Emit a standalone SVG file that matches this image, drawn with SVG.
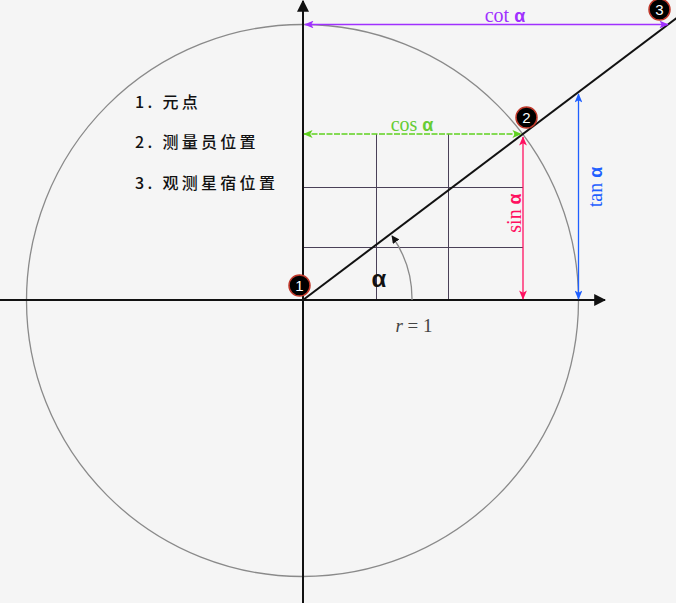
<svg xmlns="http://www.w3.org/2000/svg" width="676" height="603" viewBox="0 0 676 603">
<style>
.grid{stroke:#4a4058;stroke-width:1;fill:none}
.axis{stroke:#111;stroke-width:2;fill:none}
.lbl{font-family:"Liberation Serif",serif;font-size:20px}
.gr{font-weight:bold;font-family:"Liberation Sans",sans-serif;font-size:18px}
.cn{font-family:"Noto Sans CJK SC",sans-serif;font-size:16px;font-weight:500;letter-spacing:3.3px;fill:#111}
.num{font-family:"Liberation Sans",sans-serif;font-size:15px;fill:#fff;text-anchor:middle}
.badge{fill:#000;stroke:#c0392b;stroke-width:1.5}
</style>
<defs>
<marker id="ab" viewBox="0 0 10 10" refX="9" refY="5" markerWidth="6" markerHeight="6" orient="auto-start-reverse"><path d="M0,0 L10,5 L0,10 z" fill="#111"/></marker>
<marker id="ag" viewBox="0 0 12 10" refX="11" refY="5" markerWidth="9" markerHeight="6" orient="auto-start-reverse"><path d="M0,0 L12,5 L0,10 L3,5 z" fill="#5fd11f"/></marker>
<marker id="ar" viewBox="0 0 12 10" refX="11" refY="5" markerWidth="9" markerHeight="6" orient="auto-start-reverse"><path d="M0,0 L12,5 L0,10 L3,5 z" fill="#ff1060"/></marker>
<marker id="abl" viewBox="0 0 12 10" refX="11" refY="5" markerWidth="9" markerHeight="6" orient="auto-start-reverse"><path d="M0,0 L12,5 L0,10 L3,5 z" fill="#1f5fff"/></marker>
<marker id="ap" viewBox="0 0 12 10" refX="11" refY="5" markerWidth="9" markerHeight="6" orient="auto-start-reverse"><path d="M0,0 L12,5 L0,10 L3,5 z" fill="#a030ff"/></marker>
<marker id="aa" viewBox="0 0 10 10" refX="9" refY="5" markerWidth="6" markerHeight="6" orient="auto"><path d="M0,0 L10,5 L0,10 z" fill="#111"/></marker>
</defs>
<rect width="676" height="603" fill="#f5f5f5"/>
<g id="circle"><circle cx="302.5" cy="300.5" r="276" fill="none" stroke="#8a8a8a" stroke-width="1.3"/></g>
<g id="grid">
<line class="grid" x1="376.5" y1="134" x2="376.5" y2="300"/>
<line class="grid" x1="448.5" y1="134" x2="448.5" y2="300"/>
<line class="grid" x1="303" y1="187.5" x2="523" y2="187.5"/>
<line class="grid" x1="303" y1="247.5" x2="523" y2="247.5"/>
</g>
<g id="connectors">
<line class="axis" x1="0" y1="300" x2="605" y2="300" marker-end="url(#ab)"/>
<line class="axis" x1="303" y1="603" x2="303" y2="1" marker-end="url(#ab)"/>
<line x1="303" y1="300" x2="682" y2="14" stroke="#111" stroke-width="2"/>
<path d="M412,300 A109,109 0 0 0 392,236" fill="none" stroke="#8a8a8a" stroke-width="1.3" marker-end="url(#aa)"/>
<line x1="304" y1="134" x2="521" y2="134" stroke="#5fd11f" stroke-width="1.3" stroke-dasharray="6,1.5" marker-start="url(#ag)" marker-end="url(#ag)"/>
<line x1="523" y1="137" x2="523" y2="299" stroke="#ff1060" stroke-width="1.3" marker-start="url(#ar)" marker-end="url(#ar)"/>
<line x1="578.5" y1="94" x2="578.5" y2="299" stroke="#1f5fff" stroke-width="1.3" marker-start="url(#abl)" marker-end="url(#abl)"/>
<line x1="305" y1="24.5" x2="668" y2="24.5" stroke="#a030ff" stroke-width="1.3" marker-start="url(#ap)" marker-end="url(#ap)"/>
</g>
<g id="labels">
<text class="lbl" x="412" y="131" fill="#66cc33" text-anchor="middle">cos <tspan class="gr">α</tspan></text>
<text class="lbl" x="505" y="22" fill="#a030ff" text-anchor="middle">cot <tspan class="gr">α</tspan></text>
<text class="lbl" transform="translate(521,213) rotate(-90)" fill="#ff1060" text-anchor="middle">sin <tspan class="gr">α</tspan></text>
<text class="lbl" transform="translate(602,187) rotate(-90)" fill="#1f5fff" text-anchor="middle">tan <tspan class="gr">α</tspan></text>
<text x="379" y="287" font-family="Liberation Sans, sans-serif" font-size="24" font-weight="bold" fill="#111" text-anchor="middle">α</text>
<text x="414" y="332" font-family="Liberation Serif, serif" font-size="19" fill="#444" text-anchor="middle"><tspan font-style="italic">r</tspan> = 1</text>
</g>
<g id="legend">
<text class="cn" x="135" y="108">1. 元点</text>
<text class="cn" x="135" y="148">2. 测量员位置</text>
<text class="cn" x="135" y="189">3. 观测星宿位置</text>
</g>
<g id="n1"><circle class="badge" cx="299.5" cy="285.5" r="10.5"/><text class="num" x="299.5" y="291">1</text></g>
<g id="n2"><circle class="badge" cx="526.5" cy="117.5" r="10.5"/><text class="num" x="526.5" y="123">2</text></g>
<g id="n3"><circle class="badge" cx="659.5" cy="9.5" r="10.5"/><text class="num" x="659.5" y="15">3</text></g>
</svg>
